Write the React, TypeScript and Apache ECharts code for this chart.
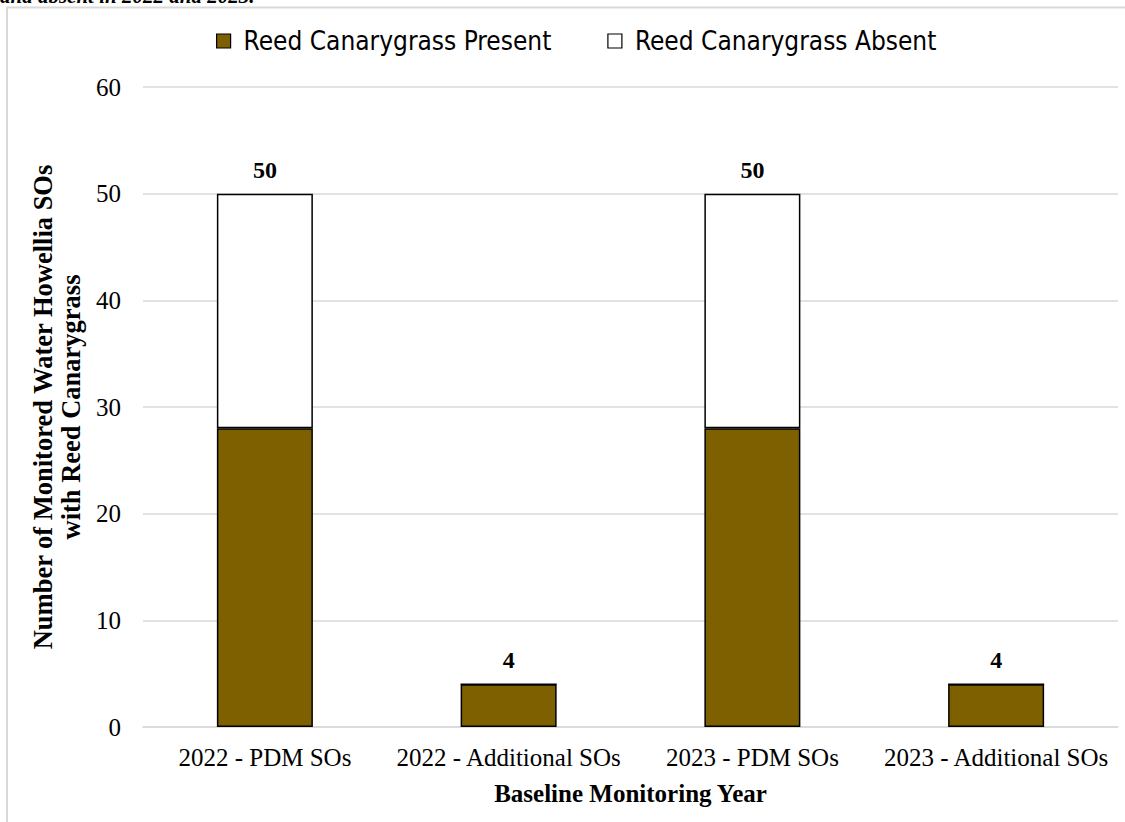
import React, { useEffect, useRef } from "react";
import * as echarts from "echarts";

const categories = ["2022 - PDM SOs", "2022 - Additional SOs", "2023 - PDM SOs", "2023 - Additional SOs"];
const presentValues = [28, 4, 28, 4];
const absentValues = [22, 0, 22, 0];
const totals = [50, 4, 50, 4];
const seriesNames = ["Reed Canarygrass Present", "Reed Canarygrass Absent"];

const SERIF = "'Liberation Serif', 'Times New Roman', serif";
const SANS = "'Liberation Sans Narrow', 'DejaVu Sans Condensed', 'Liberation Sans', sans-serif";

export default function App() {
  const ref = useRef<HTMLDivElement>(null);
  useEffect(() => {
    if (!ref.current) return;
    const chart = echarts.init(ref.current, null, { renderer: "svg" });
    chart.setOption({
      animation: false,
      backgroundColor: "#ffffff",
      graphic: [
        {
          type: "rect",
          shape: { x: 7, y: 7.5, width: 1130, height: 830 },
          style: { fill: "none", stroke: "#d9d9d9", lineWidth: 2 },
          silent: true,
        },
        {
          type: "text",
          x: 0,
          y: 6,
          style: {
            text: "and absent in 2022 and 2023.",
            font: "italic bold 21px " + SERIF,
            fill: "#000",
            textVerticalAlign: "bottom",
            verticalAlign: "bottom",
          },
        },
      ],
      legend: {
        top: 23,
        left: 211,
        itemWidth: 14,
        itemHeight: 14,
        itemGap: 56,
        icon: "rect",
        itemStyle: { borderColor: "#000", borderWidth: 1.2 },
        textStyle: { fontFamily: SANS, fontSize: 26, color: "#000", padding: [0, 0, 0, 8] },
        data: seriesNames,
      },
      grid: { left: 143, right: 7, top: 87, bottom: 95, containLabel: false, outerBoundsMode: "none" },
      xAxis: {
        type: "category",
        data: categories,
        axisLine: { lineStyle: { color: "#d9d9d9", width: 1.5 } },
        axisTick: { show: false },
        axisLabel: { fontFamily: SERIF, fontSize: 25, color: "#000", margin: 18, interval: 0, hideOverlap: false },
        name: "Baseline Monitoring Year",
        nameLocation: "middle",
        nameGap: 54,
        nameTextStyle: { fontFamily: SERIF, fontSize: 25, fontWeight: "bold", color: "#000" },
      },
      yAxis: {
        type: "value",
        min: 0,
        max: 60,
        interval: 10,
        axisLine: { show: false },
        axisTick: { show: false },
        splitLine: { lineStyle: { color: "#d9d9d9", width: 1.5 } },
        axisLabel: { fontFamily: SERIF, fontSize: 25, color: "#000", margin: 22 },
        name: "Number of Monitored Water Howellia SOs\nwith Reed Canarygrass",
        nameLocation: "middle",
        nameGap: 57,
        nameRotate: 90,
        nameTextStyle: { fontFamily: SERIF, fontSize: 26.5, fontWeight: "bold", color: "#000", lineHeight: 28 },
      },
      series: [
        {
          name: seriesNames[0],
          type: "bar",
          stack: "total",
          data: presentValues,
          barWidth: 96,
          itemStyle: { color: "#7f6000", borderColor: "#000", borderWidth: 1.5 },
        },
        {
          name: seriesNames[1],
          type: "bar",
          stack: "total",
          data: absentValues,
          barWidth: 96,
          itemStyle: { color: "#ffffff", borderColor: "#000", borderWidth: 1.5 },
          label: {
            show: true,
            position: "top",
            distance: 12,
            formatter: (p: any) => String(totals[p.dataIndex]),
            fontFamily: SERIF,
            fontSize: 24,
            fontWeight: "bold",
            color: "#000",
          },
        },
      ],
    });
    return () => chart.dispose();
  }, []);
  return <div ref={ref} style={{ position: "absolute", left: 0, top: 0, width: 1125, height: 822 }} />;
}
